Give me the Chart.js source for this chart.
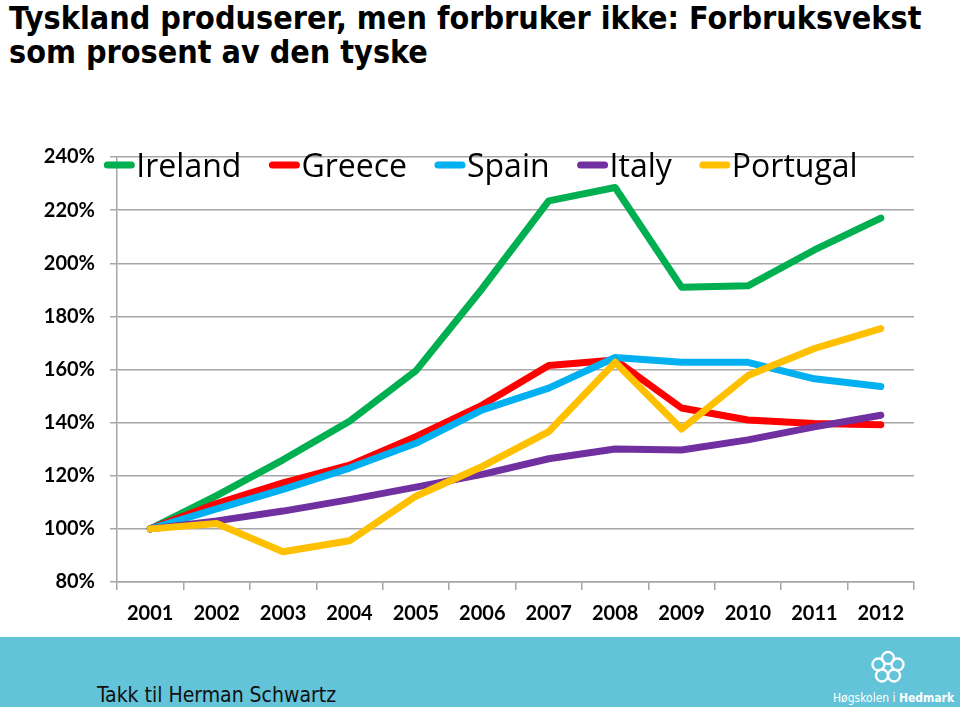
<!DOCTYPE html>
<html>
<head>
<meta charset="utf-8">
<script src="https://cdn.jsdelivr.net/npm/chart.js@4"></script>
<style>
  body { margin: 0; width: 960px; height: 707px; background: #fff; overflow: hidden; position: relative; }
  .title { position: absolute; left: 9px; top: 1px; font-family: "DejaVu Sans Condensed", "DejaVu Sans", sans-serif; font-weight: bold; font-size: 32px; line-height: 34px; color: #000; white-space: nowrap; }
  #wrap { position: absolute; left: 0; top: 130px; width: 960px; height: 500px; }
  .band { position: absolute; left: 0; top: 637px; width: 960px; height: 70px; background: #63c3d9; }
  .thanks { position: absolute; left: 97px; top: 48px; font-family: "DejaVu Sans Condensed", sans-serif; font-size: 21px; line-height: 21px; color: #111; white-space: nowrap; }
  .logo { position: absolute; left: 870px; top: 13px; }
  .school { position: absolute; left: 833px; top: 55px; font-family: "DejaVu Sans Condensed", sans-serif; font-size: 12px; line-height: 12px; color: #fff; white-space: nowrap; }
</style>
</head>
<body>
<div class="title">Tyskland produserer, men forbruker ikke: Forbruksvekst<br>som prosent av den tyske</div>
<div id="wrap"><canvas id="myChart" width="960" height="500"></canvas></div>
<div class="band">
  <div class="thanks">Takk til Herman Schwartz</div>
  <svg class="logo" width="36" height="34" viewBox="0 0 36 34">
    <g fill="none" stroke="#fff" stroke-width="2.4">
      <circle cx="18" cy="8" r="6"/>
      <circle cx="27.5" cy="14.5" r="6"/>
      <circle cx="24" cy="25.5" r="6"/>
      <circle cx="12" cy="25.5" r="6"/>
      <circle cx="8.5" cy="14.5" r="6"/>
    </g>
  </svg>
  <div class="school">Høgskolen i <b>Hedmark</b></div>
</div>
<script>
const years = ["2001","2002","2003","2004","2005","2006","2007","2008","2009","2010","2011","2012"]
const ireland  = [100, 112.5, 126, 140.5, 159.5, 190.5, 223.5, 228.5, 191, 191.5, 205, 217]
const greece   = [100, 109.5, 117.3, 124, 134.7, 146.6, 161.5, 163.6, 145.5, 141, 139.7, 139.2]
const spain    = [100, 107.5, 114.9, 122.9, 132.2, 144.8, 153, 164.5, 162.7, 162.7, 156.5, 153.6]
const italy    = [100, 103, 106.7, 111, 115.7, 120.5, 126.4, 130.1, 129.7, 133.5, 138.4, 142.8]
const portugal = [100, 102, 91.4, 95.5, 112.3, 123.5, 136.6, 162.7, 137.6, 157.7, 167.9, 175.4]
const yTicks = [80, 100, 120, 140, 160, 180, 200, 220, 240]

const gridGray = "#a6a6a6"

const mkSet = (label, data, color, order) => ({
  label: label,
  data: data,
  borderColor: color,
  backgroundColor: color,
  borderWidth: 7,
  pointRadius: 0,
  tension: 0,
  borderCapStyle: "round",
  borderJoinStyle: "round",
  order: order,
})

// legend drawn over the top of the plot, like the excel one
const lineLegend = {
  id: "lineLegend",
  afterDraw(chart) {
    const ctx = chart.ctx
    const sets = chart.data.datasets
    ctx.save()
    ctx.font = "32px 'Open Sans'"
    const lineW = 30, gap = 2, space = 28
    let total = 0
    sets.forEach((s, i) => {
      total += lineW + gap + ctx.measureText(s.label).width
      if (i < sets.length - 1) total += space
    })
    let x = 481 - total / 2
    const yLine = 35, yText = 47
    sets.forEach(s => {
      ctx.strokeStyle = s.borderColor
      ctx.lineWidth = 7
      ctx.lineCap = "round"
      ctx.beginPath()
      ctx.moveTo(x + 3, yLine)
      ctx.lineTo(x + lineW - 3, yLine)
      ctx.stroke()
      x += lineW + gap
      ctx.fillStyle = "#000"
      ctx.textBaseline = "alphabetic"
      ctx.fillText(s.label, x, yText)
      x += ctx.measureText(s.label).width + space
    })
    ctx.restore()
  }
}

const ctx = document.getElementById("myChart").getContext("2d")
const myChart = new Chart(ctx, {
  type: "line",
  data: {
    labels: years,
    datasets: [
      mkSet("Ireland", ireland, "#00b050", 4),
      mkSet("Greece", greece, "#ff0000", 3),
      mkSet("Spain", spain, "#00b0f0", 2),
      mkSet("Italy", italy, "#7030a0", 1),
      mkSet("Portugal", portugal, "#ffc000", 0),
    ],
  },
  options: {
    responsive: false,
    animation: false,
    devicePixelRatio: 1,
    layout: { padding: { top: 23, right: 46, left: 0, bottom: 0 } },
    plugins: { legend: { display: false }, tooltip: { enabled: false } },
    scales: {
      x: {
        offset: true,
        grid: { offset: true, drawOnChartArea: false, drawTicks: true, tickLength: 8, color: gridGray, lineWidth: 1.5 },
        border: { color: gridGray, width: 1.5 },
        ticks: { color: "#000", font: { family: "Lato", weight: "bold", size: 20 }, padding: 12, maxRotation: 0, autoSkip: false },
        afterFit: (scale) => { scale.height = 48 },
      },
      y: {
        min: 80,
        max: 240,
        afterBuildTicks: (scale) => { scale.ticks = yTicks.map(v => ({ value: v })) },
        grid: { color: gridGray, lineWidth: 1.5, tickLength: 7 },
        border: { color: gridGray, width: 1.5 },
        ticks: { color: "#000", font: { family: "Lato", weight: "bold", size: 20 }, padding: 15, callback: v => v + "%" },
        afterFit: (scale) => { scale.width = 117 },
      },
    },
  },
  plugins: [lineLegend],
})
</script>
</body>
</html>
